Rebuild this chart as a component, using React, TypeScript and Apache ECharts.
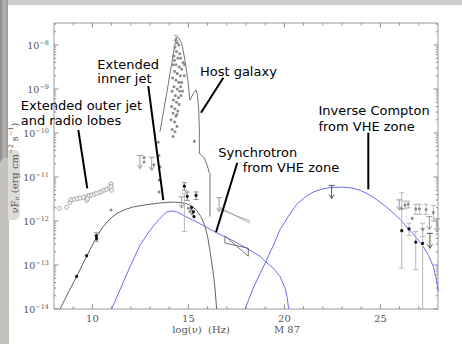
import React, { useEffect, useRef } from 'react';
import * as echarts from 'echarts';

// Axis ranges, in log10 units
const NU_MIN = 8;
const NU_MAX = 28;
const FLUX_MIN = -14;
const FLUX_MAX = -7.5;

const xTickLabels = [10, 15, 20, 25];

const FONT_SANS = '"DejaVu Sans", Verdana, sans-serif';
const FONT_SERIF = '"DejaVu Serif", "Liberation Serif", serif';

// [log nu, log nuFnu]
const radioLobes = [
  [8.28, -11.71], [8.66, -11.69], [8.83, -11.58], [8.87, -11.52], [9.04, -11.51],
  [9.21, -11.49], [9.35, -11.48], [9.53, -11.46], [9.70, -11.53], [9.73, -11.44],
  [9.75, -11.49], [9.84, -11.42], [9.96, -11.41], [10.10, -11.39], [10.22, -11.37],
  [10.36, -11.35], [10.48, -11.33], [10.60, -11.30], [10.74, -11.28], [10.88, -11.25],
  [10.97, -11.16], [10.97, -11.22], [11.0, -11.30],
];

const coreRadio = [[9.18, -13.26], [9.70, -12.79], [10.20, -12.34], [10.22, -12.40]];
const coreOptical = [[14.79, -11.21], [14.94, -11.44], [15.40, -11.42], [15.17, -11.69], [15.26, -11.79], [15.29, -11.90]];
const coreVhe = [[26.11, -12.22], [26.49, -12.18], [26.84, -12.48], [27.20, -12.51]];

// optical / near-IR measurements dominated by the host galaxy
const hostPoints = [
  [14.35, -7.88], [14.42, -7.95], [14.30, -8.05], [14.50, -8.00], [14.38, -8.15], [14.55, -8.20],
  [14.25, -8.25], [14.45, -8.30], [14.60, -8.30], [14.72, -8.40], [14.20, -8.45], [14.35, -8.45],
  [14.52, -8.50], [14.65, -8.55], [14.80, -8.45], [14.28, -8.60], [14.42, -8.65], [14.58, -8.70],
  [14.18, -8.75], [14.35, -8.80], [14.50, -8.85], [14.65, -8.85], [14.78, -8.70], [14.25, -8.95],
  [14.42, -9.00], [14.55, -9.05], [14.15, -9.05], [14.32, -9.15], [14.48, -9.20], [14.62, -9.15],
  [14.22, -9.25], [14.38, -9.30], [14.52, -9.35], [14.12, -9.40], [14.30, -9.45], [14.45, -9.50],
  [14.20, -9.55], [14.35, -9.62], [14.40, -9.58], [14.10, -9.70], [14.28, -9.75], [14.40, -9.85],
  [14.15, -9.92], [14.30, -9.97], [14.20, -10.08], [14.60, -8.95], [14.70, -9.05], [14.27, -8.35],
];

const grayPoints = [
  [10.97, -11.75], [12.69, -10.56], [12.69, -10.66], [13.20, -10.72],
  [13.43, -10.21], [13.47, -10.51], [13.52, -10.77], [13.48, -11.07], [13.47, -11.34],
  [15.31, -10.19], [14.99, -11.71], [15.08, -11.79], [15.14, -11.74], [15.20, -11.84],
  [26.11, -11.72], [26.28, -11.64], [26.45, -11.62], [26.66, -11.94], [26.84, -11.73],
  [27.03, -11.72], [27.20, -12.19], [27.38, -11.74], [27.76, -11.81],
];

// [log nu, low, high]
const coreErrors = [[10.21, -12.46, -12.27], [14.79, -11.30, -11.13], [14.94, -11.53, -11.34], [15.40, -11.51, -11.34]];
const grayErrors = [
  [14.35, -7.90, -7.78], [14.79, -12.24, -11.38],
  [26.11, -13.07, -11.36], [26.28, -11.72, -11.55], [26.45, -11.70, -11.55], [26.49, -12.33, -12.05],
  [26.84, -13.10, -12.24], [26.84, -11.85, -11.62], [27.03, -11.85, -11.62], [27.20, -14.0, -12.17],
  [27.20, -12.35, -12.05], [27.38, -11.85, -11.62], [27.76, -12.0, -11.65],
];

// upper limits: [log nu, bar, arrow tip]
const grayLimits = [
  [12.48, -10.51, -10.81], [13.09, -10.55, -10.85], [14.65, -11.45, -11.71], [16.60, -11.47, -11.79],
  [25.98, -11.52, -11.75], [27.55, -11.90, -12.20], [27.95, -11.95, -12.25],
];
const darkLimits = [[22.46, -11.19, -11.49], [27.58, -12.28, -12.62]];

// X-ray bow tie and slopes
const xrayBowtie = [[16.9, -12.34], [18.12, -12.80], [18.12, -12.62], [16.9, -12.50], [16.9, -12.34]];
const xraySlopeA = [[16.61, -11.69], [18.21, -12.05]];
const xraySlopeB = [[16.73, -11.75], [18.21, -12.00]];

// model curves
const jetModel = [
  [8.31, -14.0], [8.8, -13.58], [9.18, -13.26], [9.7, -12.8], [10.22, -12.36], [10.57, -12.12],
  [10.9, -11.96], [11.26, -11.83], [11.7, -11.74], [12.13, -11.68], [12.8, -11.63], [13.52, -11.59],
  [14.21, -11.57], [14.6, -11.58], [14.91, -11.61], [15.2, -11.67], [15.43, -11.76], [15.65, -11.9],
  [15.85, -12.1], [16.0, -12.35], [16.15, -12.75], [16.3, -13.2], [16.4, -13.6], [16.47, -14.0],
];
const synchVhe = [
  [11.0, -14.0], [11.44, -13.56], [11.96, -13.04], [12.48, -12.55], [13.0, -12.21], [13.52, -11.94],
  [13.85, -11.8], [14.13, -11.77], [14.39, -11.79], [14.91, -11.91], [15.6, -12.06], [16.47, -12.27],
  [17.34, -12.45], [18.03, -12.62], [18.73, -12.8], [19.0, -12.92], [19.42, -13.07], [19.77, -13.26],
  [20.03, -13.52], [20.15, -13.75], [20.22, -14.0],
];
const icVhe = [
  [17.95, -14.0], [18.4, -13.5], [18.99, -12.96], [19.4, -12.58], [19.77, -12.2], [20.2, -11.9],
  [20.64, -11.62], [21.1, -11.45], [21.51, -11.34], [22.0, -11.27], [22.38, -11.24], [23.07, -11.23],
  [23.5, -11.25], [23.94, -11.3], [24.5, -11.42], [24.98, -11.57], [25.5, -11.75], [26.02, -11.96],
  [26.54, -12.21], [27.0, -12.45], [27.23, -12.58], [27.5, -12.78], [27.76, -13.04], [27.9, -13.3],
  [28.02, -13.6],
];
const hostTemplate = [
  [13.52, -9.97], [13.87, -9.1], [14.13, -8.42], [14.3, -7.98], [14.39, -7.82], [14.48, -7.83],
  [14.65, -7.96], [14.82, -8.34], [14.99, -8.87], [15.08, -9.25], [15.26, -9.1], [15.4, -9.02],
  [15.47, -9.14], [15.54, -9.48], [15.57, -9.93], [15.57, -10.46], [15.69, -10.51], [15.8, -10.55],
  [15.86, -10.6], [15.95, -10.7], [16.04, -10.82], [16.08, -10.9], [16.125, -10.92], [16.125, -11.9],
];

// annotation texts, placed by the left end / middle of each line
const annotationTexts = [
  'Extended outer jet', 'and radio lobes', 'Extended', 'inner jet', 'Host galaxy',
  'Inverse Compton', 'from VHE zone', 'Synchrotron', 'from VHE zone',
];
const annotationAnchors = [
  [6.27, -9.37, 0], [6.27, -9.715, 1], [10.255, -8.439, 2], [10.255, -8.768, 3], [15.6, -8.598, 4],
  [21.77, -9.484, 5], [21.77, -9.841, 6], [16.56, -10.445, 7], [17.83, -10.795, 8],
];
// pointer lines [x1, y1, x2, y2]
const pointerLines = [
  [9.266, -9.932, 9.734, -11.257],
  [12.911, -8.932, 13.693, -11.523],
  [16.818, -8.743, 15.656, -9.539],
  [17.547, -10.675, 16.438, -12.257],
  [24.37, -9.993, 24.37, -11.28],
];

// frame ticks: integers on the frequency axis, log-spaced minor ticks on the flux axis
const xTickRows: number[][] = [];
for (let v = NU_MIN + 1; v < NU_MAX; v++) xTickRows.push([v, xTickLabels.includes(v) ? 4.5 : 2.6]);
const yTickRows: number[][] = [];
for (let d = FLUX_MIN; d <= -8; d++) {
  yTickRows.push([d, 4.5]);
  for (let k = 2; k <= 9; k++) {
    const v = d + Math.log10(k);
    if (v < FLUX_MAX) yTickRows.push([v, 2.2]);
  }
}

const TICK_COLOR = '#8c8c8c';
const BLUE = '#6c6cf4';
const LABEL_COLOR = '#555';

function lineEl(x1: number, y1: number, x2: number, y2: number, stroke: string, lineWidth = 1) {
  return { type: 'line', shape: { x1, y1, x2, y2 }, style: { stroke, lineWidth, fill: 'none' } };
}

function errorBarRenderer(color: string) {
  return (_p: any, api: any) => {
    const x = api.value(0);
    const a = api.coord([x, api.value(1)]);
    const b = api.coord([x, api.value(2)]);
    return {
      type: 'group',
      children: [
        lineEl(a[0], a[1], b[0], b[1], color),
        lineEl(a[0] - 2.5, a[1], a[0] + 2.5, a[1], color),
        lineEl(b[0] - 2.5, b[1], b[0] + 2.5, b[1], color),
      ],
    };
  };
}

function limitRenderer(color: string) {
  return (_p: any, api: any) => {
    const x = api.value(0);
    const top = api.coord([x, api.value(1)]);
    const tip = api.coord([x, api.value(2)]);
    return {
      type: 'group',
      children: [
        lineEl(top[0] - 3, top[1], top[0] + 3, top[1], color),
        lineEl(top[0], top[1], tip[0], tip[1], color),
        lineEl(tip[0] - 2.5, tip[1] - 4, tip[0], tip[1], color),
        lineEl(tip[0] + 2.5, tip[1] - 4, tip[0], tip[1], color),
      ],
    };
  };
}

function curve(name: string, data: number[][], color: string, width: number, z = 2) {
  return {
    name, type: 'line', data, showSymbol: false, symbol: 'none', z,
    lineStyle: { color, width }, silent: true,
  };
}

function dots(name: string, data: number[][], color: string, size: number, z = 4) {
  return {
    name, type: 'scatter', data, symbol: 'circle', symbolSize: size, z,
    itemStyle: { color, opacity: 1 }, silent: true,
  };
}

export default function App() {
  const ref = useRef<HTMLDivElement>(null);

  useEffect(() => {
    if (!ref.current) return;
    const chart = echarts.init(ref.current, null, { renderer: 'svg' });

    const option: any = {
      animation: false,
      backgroundColor: '#ffffff',
      grid: { left: 54, top: 23, width: 384, height: 286, show: true, borderColor: '#9a9a9a', borderWidth: 1, backgroundColor: 'transparent' },
      xAxis: {
        type: 'value', min: NU_MIN, max: NU_MAX, interval: 1,
        axisLine: { show: false }, axisTick: { show: false }, splitLine: { show: false },
        axisLabel: {
          margin: 4, color: LABEL_COLOR, fontSize: 10, fontFamily: FONT_SERIF,
          showMinLabel: false, showMaxLabel: false,
          formatter: (v: number) => (xTickLabels.includes(v) ? String(v) : ''),
        },
      },
      yAxis: {
        type: 'value', min: FLUX_MIN, max: FLUX_MAX, interval: 1,
        axisLine: { show: false }, axisTick: { show: false }, splitLine: { show: false },
        axisLabel: {
          margin: 5, showMaxLabel: false,
          formatter: (v: number) => (Number.isInteger(v) ? `{b|10}{s|${v < 0 ? '\u2212' : ''}${Math.abs(v)}}` : ''),
          rich: {
            b: { fontSize: 9.5, fontFamily: FONT_SERIF, color: LABEL_COLOR, lineHeight: 11, verticalAlign: 'bottom' },
            s: { fontSize: 6.5, fontFamily: FONT_SERIF, color: LABEL_COLOR, lineHeight: 6, verticalAlign: 'top' },
          },
        },
      },
      graphic: [
        { type: 'rect', shape: { x: 0, y: 0, width: 462, height: 5 }, style: { fill: '#cdcdcd' }, silent: true },
        {
          type: 'rect', shape: { x: 0, y: 0, width: 8, height: 165 }, silent: true,
          style: { fill: new echarts.graphic.LinearGradient(0, 0, 1, 0, [
            { offset: 0, color: '#8a8a8a' }, { offset: 0.5, color: '#b5b5b5' }, { offset: 1, color: '#9c9c9c' },
          ]) },
        },
        { type: 'rect', shape: { x: 0, y: 158, width: 9, height: 186, r: [6, 0, 0, 0] }, style: { fill: '#c4c2bd' }, silent: true },
        { type: 'rect', shape: { x: 8, y: 150, width: 12, height: 70, r: [0, 6, 6, 0] }, style: { fill: '#dedcd8' }, silent: true },
        {
          type: 'text', x: 201, y: 329, silent: true,
          style: { text: 'log(\u03bd)  (Hz)', fill: LABEL_COLOR, fontSize: 10, fontFamily: FONT_SERIF, align: 'center', verticalAlign: 'middle' },
        },
        {
          type: 'text', x: 287, y: 329, silent: true,
          style: { text: 'M 87', fill: LABEL_COLOR, fontSize: 10, fontFamily: FONT_SERIF, align: 'center', verticalAlign: 'middle' },
        },
        {
          type: 'text', x: 14, y: 168, rotation: Math.PI / 2, silent: true,
          style: {
            text: '{a|\u03bdF}{d|\u03bd}{a| (erg cm}{u|\u22122}{a| s}{u|\u22121}{a|)}',
            align: 'center', verticalAlign: 'middle',
            rich: {
              a: { fontSize: 10, fontFamily: FONT_SERIF, fill: LABEL_COLOR, lineHeight: 13, verticalAlign: 'middle' },
              u: { fontSize: 6.5, fontFamily: FONT_SERIF, fill: LABEL_COLOR, lineHeight: 7, verticalAlign: 'top' },
              d: { fontSize: 6.5, fontFamily: FONT_SERIF, fill: LABEL_COLOR, lineHeight: 7, verticalAlign: 'bottom' },
            },
          },
        },
      ],
      series: [
        {
          name: 'xTicks', type: 'custom', data: xTickRows, silent: true, z: 1,
          renderItem: (_p: any, api: any) => {
            const v = api.value(0);
            const len = api.value(1);
            const b = api.coord([v, FLUX_MIN]);
            const t = api.coord([v, FLUX_MAX]);
            return { type: 'group', children: [
              lineEl(b[0], b[1], b[0], b[1] - len, TICK_COLOR),
              lineEl(t[0], t[1], t[0], t[1] + len, TICK_COLOR),
            ] };
          },
        },
        {
          name: 'yTicks', type: 'custom', data: yTickRows, silent: true, z: 1,
          renderItem: (_p: any, api: any) => {
            const v = api.value(0);
            const len = api.value(1);
            const l = api.coord([NU_MIN, v]);
            const r = api.coord([NU_MAX, v]);
            return { type: 'group', children: [
              lineEl(l[0], l[1], l[0] + len, l[1], TICK_COLOR),
              lineEl(r[0], r[1], r[0] - len, r[1], TICK_COLOR),
            ] };
          },
        },
        curve('Host galaxy', hostTemplate, '#505050', 0.8),
        curve('Jet model', jetModel, '#3a3a3a', 0.8),
        curve('Synchrotron VHE', synchVhe, BLUE, 1),
        curve('Inverse Compton VHE', icVhe, BLUE, 1),
        curve('X-ray bow tie', xrayBowtie, '#555', 0.8),
        curve('X-ray slope a', xraySlopeA, '#9a9a9a', 0.8),
        curve('X-ray slope b', xraySlopeB, '#9a9a9a', 0.8),
        { name: 'gray errors', type: 'custom', data: grayErrors, renderItem: errorBarRenderer('#b8b8b8'), encode: { x: 0, y: [1, 2] }, z: 3, silent: true },
        { name: 'core errors', type: 'custom', data: coreErrors, renderItem: errorBarRenderer('#8a8a8a'), encode: { x: 0, y: [1, 2] }, z: 3, silent: true },
        { name: 'gray limits', type: 'custom', data: grayLimits, renderItem: limitRenderer('#9a9a9a'), encode: { x: 0, y: [1, 2] }, z: 3, silent: true },
        { name: 'dark limits', type: 'custom', data: darkLimits, renderItem: limitRenderer('#555'), encode: { x: 0, y: [1, 2] }, z: 3, silent: true },
        {
          name: 'Radio lobes', type: 'scatter', data: radioLobes, symbol: 'circle', symbolSize: 4, z: 4, silent: true,
          itemStyle: { color: '#ffffff', borderColor: '#8c8c8c', borderWidth: 1 },
        },
        dots('Host points', hostPoints, '#8c8c8c', 3),
        dots('Gray points', grayPoints, '#8c8c8c', 3),
        dots('Core radio', coreRadio, '#111', 3.2, 5),
        dots('Core optical', coreOptical, '#111', 3.2, 5),
        dots('Core VHE', coreVhe, '#111', 3.2, 5),
        {
          name: 'pointers', type: 'custom', data: pointerLines, encode: { x: [0, 2], y: [1, 3] }, z: 8, silent: true,
          renderItem: (_p: any, api: any) => {
            const a = api.coord([api.value(0), api.value(1)]);
            const b = api.coord([api.value(2), api.value(3)]);
            return lineEl(a[0], a[1], b[0], b[1], '#000', 2);
          },
        },
        {
          name: 'annotations', type: 'custom', data: annotationAnchors, z: 9, silent: true,
          renderItem: (_p: any, api: any) => {
            const p = api.coord([api.value(0), api.value(1)]);
            return {
              type: 'text', x: p[0], y: p[1],
              style: {
                text: annotationTexts[api.value(2)], fill: '#000', fontSize: 13, fontFamily: FONT_SANS,
                lineHeight: 13, align: 'left', verticalAlign: 'middle',
              },
            };
          },
        },
      ],
    };

    chart.setOption(option);
    return () => chart.dispose();
  }, []);

  return <div ref={ref} style={{ position: 'fixed', left: 0, top: 0, width: 462, height: 344 }} />;
}
